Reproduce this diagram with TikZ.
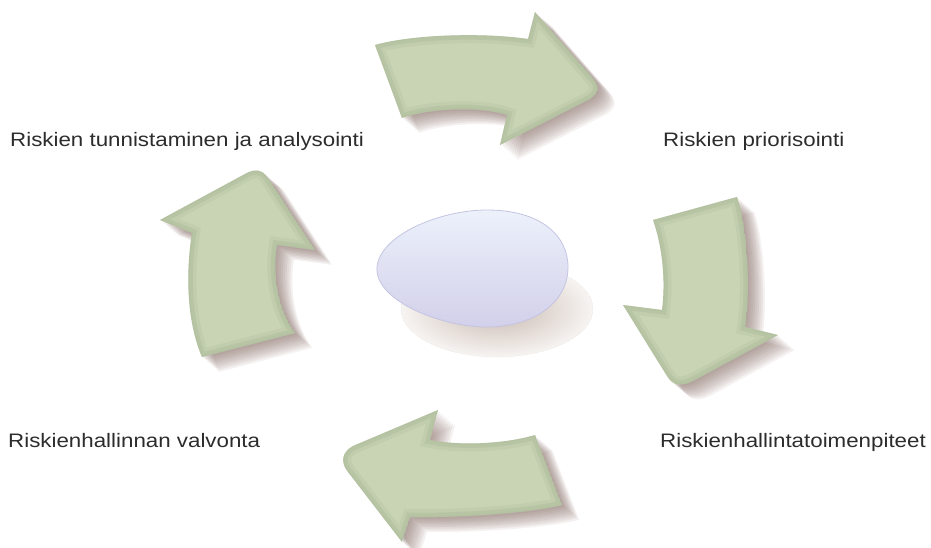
\documentclass[tikz,border=0pt]{standalone}
\usepackage{fontspec}
\setmainfont{Liberation Sans}[FakeStretch=1.145]
\definecolor{arrowfill}{HTML}{C9D4B5}
\definecolor{arrowedge}{HTML}{A3B191}
\definecolor{shadowc}{HTML}{7A5E56}
\definecolor{eggtop}{HTML}{ECF1FB}
\definecolor{eggbot}{HTML}{D2D0EA}
\definecolor{eggline}{HTML}{C4C4E2}
\definecolor{eggshin}{HTML}{C8B8AF}
\definecolor{eggshout}{HTML}{F7F4F2}
\definecolor{txt}{HTML}{2C2C2C}
\def\pathA{(375,45) .. controls (410,35) and (480,32) .. (528,39) -- (535,12) -- (591,76) .. controls (600,86) and (600,92) .. (590,99) -- (500,145) -- (507,115) .. controls (480,106) and (430,108) .. (402,118) -- cycle}
\def\pathB{(653,220) -- (737,197) .. controls (747,225) and (751,290) .. (745,327) -- (778,335) -- (695,380) .. controls (682,387) and (673,386) .. (667,376) -- (623,305) -- (662,310) .. controls (666,280) and (662,245) .. (653,220) -- cycle}
\def\pathC{(535,435) -- (562,505) .. controls (530,513) and (460,518) .. (410,517) -- (402,542) -- (348,472) .. controls (340,462) and (342,452) .. (353,446) -- (438,410) -- (430,440) .. controls (460,446) and (505,444) .. (535,435) -- cycle}
\def\pathD{(202,357) .. controls (186,320) and (186,270) .. (192,233) -- (160,220) -- (245,174) .. controls (255,168) and (263,170) .. (268,178) -- (315,250) -- (277,245) .. controls (272,275) and (278,310) .. (295,333) -- cycle}
\def\pathEgg{(377,267) .. controls (380,235) and (440,210) .. (487,210) .. controls (540,210) and (568,235) .. (568,267) .. controls (568,305) and (530,327) .. (487,327) .. controls (440,327) and (374,300) .. (377,267) -- cycle}
\newcommand{\softshadow}[1]{\foreach \k in {1,...,9}{\fill[shadowc, opacity=0.085, shift={(1.9*\k,1.65*\k)}] #1;}}
\newcommand{\greenarrow}[1]{\begin{scope}\clip #1; \fill[arrowfill] #1; \draw[arrowedge, line width=16pt, opacity=0.2] #1; \draw[arrowedge, line width=9pt, opacity=0.28] #1; \draw[arrowedge, line width=3pt, opacity=0.12] #1;\end{scope}}
\tikzset{label text/.style={anchor=base west, inner sep=0pt, text=txt, font=\fontsize{19.5}{22}\selectfont}}
\begin{document}
\begin{tikzpicture}[x=1pt,y=-1pt]
\useasboundingbox (0,0) rectangle (931,548);
% shadows
\softshadow{\pathA}
\softshadow{\pathB}
\softshadow{\pathC}
\softshadow{\pathD}
% arrows
\greenarrow{\pathA}
\greenarrow{\pathB}
\greenarrow{\pathC}
\greenarrow{\pathD}
% egg shadow
\begin{scope}
\clip (497,309) ellipse [x radius=96, y radius=48];
\shade[inner color=eggshin, outer color=eggshout] (401,261) rectangle (593,357);
\end{scope}
\draw[gray!25, densely dotted, line width=0.5pt] (497,309) ellipse [x radius=96, y radius=48];
% egg
\shade[top color=eggtop, bottom color=eggbot, draw=eggline, line width=0.8pt] \pathEgg;
% labels
\node[label text] (t1) at (10,147) {Riskien tunnistaminen ja analysointi};
\node[label text] (t2) at (663,147) {Riskien priorisointi};
\node[label text] (t3) at (660,447) {Riskienhallintatoimenpiteet};
\node[label text] (t4) at (8,447) {Riskienhallinnan valvonta};
\end{tikzpicture}
\end{document}
